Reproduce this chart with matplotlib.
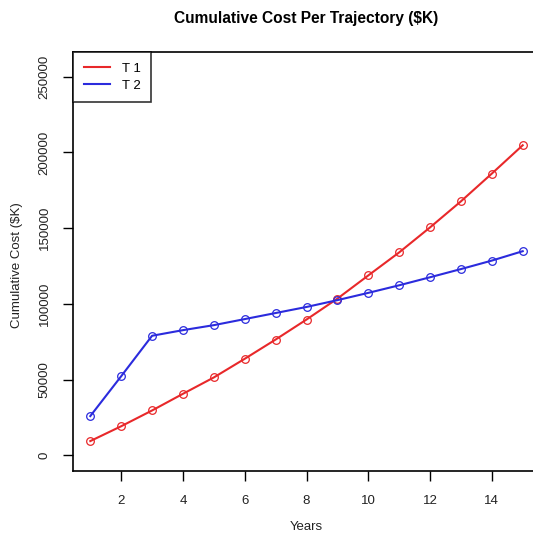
import matplotlib
matplotlib.use("Agg")
import matplotlib.pyplot as plt

plt.rcParams["font.family"] = ["Liberation Sans", "DejaVu Sans"]

years = list(range(1, 16))
t1_cost = [9500, 19300, 29700, 40700, 51500, 63800, 76500, 89700, 103500,
           118800, 134000, 150500, 167700, 186000, 204700]
t2_cost = [26000, 52300, 79000, 82700, 86000, 90000, 94000, 98000, 102500,
           107300, 112300, 117600, 123000, 128600, 134800]
y_ticks = [0, 50000, 100000, 150000, 200000, 250000]
x_ticks = [2, 4, 6, 8, 10, 12, 14]

W = 533
fig = plt.figure(figsize=(5.33, 5.33), dpi=100)
ax = fig.add_axes([73 / W, (W - 471) / W, (540 - 73) / W, (471 - 52) / W])

ax.plot(years, t1_cost, color="#e8282a", lw=1.5, marker="o", ms=5.5,
        mfc="none", mew=0.9, label="T 1")
ax.plot(years, t2_cost, color="#2b2bdd", lw=1.5, marker="o", ms=5.5,
        mfc="none", mew=0.9, label="T 2")

ax.set_xlim(0.44, 15.56)
ax.set_ylim(-10240, 266240)
ax.set_xticks(x_ticks)
ax.set_yticks(y_ticks)
ax.set_yticklabels([str(v) for v in y_ticks], rotation=90, va="center")
ax.tick_params(axis="both", direction="out", length=7, width=1,
               labelsize=9.5, colors="black", labelcolor="#222222")
ax.tick_params(axis="x", pad=10)
ax.tick_params(axis="y", pad=9)
for s in ax.spines.values():
    s.set_linewidth(1.2)

leg = ax.legend(loc="upper left", fontsize=9.5, frameon=True, fancybox=False,
                borderaxespad=0, handlelength=2.0, handletextpad=0.9,
                borderpad=0.8, labelspacing=0.35)
leg.get_frame().set_edgecolor("black")
leg.get_frame().set_linewidth(1.2)
for h in leg.legend_handles:
    h.set_marker("")

fig.text(306 / W, 1 - 19 / W, "Cumulative Cost Per Trajectory ($K)",
         ha="center", va="center", fontsize=11.2, fontweight="bold")
fig.text(306 / W, 1 - 527 / W, "Years", ha="center", va="center",
         fontsize=9.5, color="#222222")
fig.text(17 / W, 1 - 265 / W, "Cumulative Cost ($K)", ha="center",
         va="center", rotation=90, fontsize=9.5, color="#222222")

fig.savefig("out.png", dpi=100)
